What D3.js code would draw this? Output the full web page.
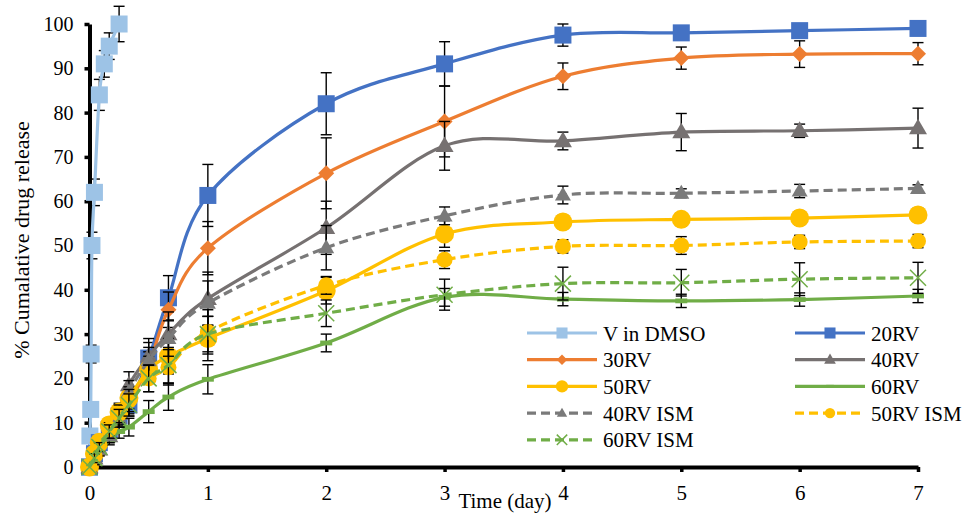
<!DOCTYPE html>
<html>
<head>
<meta charset="utf-8">
<script src="https://cdn.jsdelivr.net/npm/d3@7"></script>
<style>
  body { margin: 0; background: #fff; }
  svg { display: block; }
</style>
</head>
<body>
<svg id="chart" width="966" height="513"></svg>
<script>
// time points (days)
const timeDays = [0, 0.042, 0.083, 0.167, 0.25, 0.333, 0.5, 0.667, 1, 2, 3, 4, 5, 6, 7];
const timeDmso = [0, 0.0035, 0.0104, 0.0139, 0.0208, 0.0417, 0.0833, 0.125, 0.1667, 0.25];

// % cumulative release
const dmso     = [0, 7, 13, 25.5, 50, 62, 84, 91, 95, 100];
const rv20     = [0, 3, 5.5, 8.5, 11.5, 14, 24.6, 38.2, 61.3, 82, 91, 97.5, 98, 98.5, 99];
const rv30     = [0, 2.5, 5, 8, 11, 14.5, 23, 35.5, 49.4, 66.3, 78, 88.2, 92.3, 93.2, 93.3];
const rv40     = [0, 2, 4, 7, 12, 18.5, 25, 30, 38, 54, 72.5, 73.6, 75.6, 75.9, 76.5];
const rv50     = [0, 3, 5.6, 9.5, 12.4, 15.6, 22, 25, 29, 39.8, 52.6, 55.3, 55.9, 56.2, 56.9];
const rv60     = [0, 1.5, 3.5, 6, 8, 9, 12.5, 15.8, 19.8, 28, 38.3, 37.9, 37.5, 37.8, 38.6];
const rv40Ism  = [0, 2, 4, 7, 11, 17, 24, 29, 37, 49.5, 56.7, 61.4, 61.8, 62.3, 62.9];
const rv50Ism  = [0, 2.5, 5, 8.5, 12, 15, 20, 22.5, 30.5, 41, 46.8, 49.8, 50, 50.8, 51];
const rv60Ism  = [0, 2, 4.5, 8, 11, 14, 20, 23, 30, 34.7, 38.9, 41.4, 41.6, 42.4, 42.7];

// error bar half-widths
const dmsoErr    = [0, 1, 1.5, 2, 3, 3, 3.5, 3, 3, 4];
const rv20Err    = [0, 1, 1, 1.5, 2, 2.5, 3.5, 5, 7, 7, 5, 2.5, 1.5, 1.5, 1];
const rv30Err    = [0, 1, 1, 1.5, 2, 2.5, 3, 4, 6, 8, 8, 3, 2.5, 3, 2.5];
const rv40Err    = [0, 1, 1, 1.5, 2, 3, 4, 5, 6, 6, 5.5, 2, 4.2, 1.5, 4.5];
const rv50Err    = [0, 1, 1, 1.5, 2, 2.5, 3, 4, 5, 3, 3, 1.5, 1.5, 1.5, 1.5];
const rv60Err    = [0, 1, 1, 1, 1.5, 2, 2.5, 3, 3.3, 2, 2, 1.5, 1.5, 1.5, 1.5];
const rv40IsmErr = [0, 1, 1, 1.5, 2, 2.5, 3, 4, 5, 5, 2, 2, 1, 1.5, 0.8];
const rv50IsmErr = [0, 1, 1, 1.5, 2, 2.5, 3, 4, 5, 2, 2, 1.5, 2, 1.5, 1.5];
const rv60IsmErr = [0, 1, 1, 1.5, 2, 2.5, 3, 4, 4, 3, 3.5, 3.7, 3, 3.7, 3.5];

const xTicks = [0, 1, 2, 3, 4, 5, 6, 7];
const yTicks = [0, 10, 20, 30, 40, 50, 60, 70, 80, 90, 100];

const FONT = "'Liberation Serif', serif";

const series = [
  { name: "V in DMSO", t: timeDmso, v: dmso, e: dmsoErr, color: "#9dc3e6", marker: "square", size: 17 },
  { name: "20RV", t: timeDays, v: rv20, e: rv20Err, color: "#4472c4", marker: "square", size: 17 },
  { name: "30RV", t: timeDays, v: rv30, e: rv30Err, color: "#ed7d31", marker: "diamond", size: 16 },
  { name: "40RV", t: timeDays, v: rv40, e: rv40Err, color: "#767171", marker: "triangle", size: 18 },
  { name: "50RV", t: timeDays, v: rv50, e: rv50Err, color: "#ffc000", marker: "circle", size: 19 },
  { name: "60RV", t: timeDays, v: rv60, e: rv60Err, color: "#70ad47", marker: "dash", size: 12 },
  { name: "40RV ISM", t: timeDays, v: rv40Ism, e: rv40IsmErr, color: "#7a7a7a", marker: "triangle", size: 16, dash: true },
  { name: "50RV ISM", t: timeDays, v: rv50Ism, e: rv50IsmErr, color: "#ffc000", marker: "circle", size: 16, dash: true },
  { name: "60RV ISM", t: timeDays, v: rv60Ism, e: rv60IsmErr, color: "#70ad47", marker: "x", size: 16, dash: true }
];

const svg = d3.select("#chart");
const x = d3.scaleLinear().domain([0, 7]).range([89.5, 918]);
const y = d3.scaleLinear().domain([0, 100]).range([467, 24]);

// axes
const yAxis = svg.append("g")
  .attr("transform", `translate(${x(0)},0)`)
  .call(d3.axisLeft(y).tickValues(yTicks).tickFormat(d3.format("d"))
    .tickSize(5).tickSizeOuter(0).tickPadding(11));
const xAxis = svg.append("g")
  .attr("transform", `translate(0,${y(0)})`)
  .call(d3.axisBottom(x).tickValues(xTicks).tickFormat(d3.format("d"))
    .tickSize(5).tickSizeOuter(0).tickPadding(13));

[yAxis, xAxis].forEach(g => {
  g.attr("font-family", null);
  g.select(".domain").attr("stroke", "#000").attr("stroke-width", 4);
  g.selectAll(".tick line").attr("stroke", "#000").attr("stroke-width", 3.5);
  g.selectAll(".tick text").attr("fill", "#000")
    .style("font-family", FONT).style("font-size", "20px");
});
xAxis.selectAll(".tick text").style("font-size", "21px");

svg.append("text")
  .attr("transform", "translate(29,240) rotate(-90)")
  .attr("text-anchor", "middle")
  .style("font-family", FONT)
  .style("font-size", "22px")
  .text("% Cumalative drug release");

svg.append("text")
  .attr("x", 505).attr("y", 508)
  .attr("text-anchor", "middle")
  .style("font-family", FONT)
  .style("font-size", "21px")
  .text("Time (day)");

function drawMarker(g, type, s, color) {
  if (type === "square") {
    g.append("rect").attr("x", -s / 2).attr("y", -s / 2).attr("width", s).attr("height", s).attr("fill", color);
  } else if (type === "diamond") {
    g.append("path").attr("d", `M0,${-s / 2}L${s / 2},0L0,${s / 2}L${-s / 2},0Z`).attr("fill", color);
  } else if (type === "triangle") {
    const h = s * 0.87;
    g.append("path").attr("d", `M0,${-h * 0.6}L${s / 2},${h * 0.4}L${-s / 2},${h * 0.4}Z`).attr("fill", color);
  } else if (type === "circle") {
    g.append("circle").attr("r", s / 2).attr("fill", color);
  } else if (type === "dash") {
    g.append("rect").attr("x", -s / 2).attr("y", -s * 0.2).attr("width", s).attr("height", s * 0.4).attr("fill", color);
  } else if (type === "x") {
    const r = s / 2;
    g.append("path").attr("d", `M${-r},${-r}L${r},${r}M${-r},${r}L${r},${-r}`)
      .attr("stroke", color).attr("stroke-width", 1.5).attr("fill", "none");
  }
}

const line = d3.line().curve(d3.curveCatmullRom.alpha(0));

series.forEach(s => {
  const pts = s.t.map((t, i) => ({ t: t, v: s.v[i], e: s.e[i] }));
  const g = svg.append("g");

  // error bars
  const eb = g.selectAll(".err").data(pts.filter(d => d.e > 0)).join("g");
  eb.append("line")
    .attr("x1", d => x(d.t)).attr("x2", d => x(d.t))
    .attr("y1", d => y(d.v - d.e)).attr("y2", d => y(d.v + d.e));
  eb.append("line")
    .attr("x1", d => x(d.t) - 5.5).attr("x2", d => x(d.t) + 5.5)
    .attr("y1", d => y(d.v + d.e)).attr("y2", d => y(d.v + d.e));
  eb.append("line")
    .attr("x1", d => x(d.t) - 5.5).attr("x2", d => x(d.t) + 5.5)
    .attr("y1", d => y(d.v - d.e)).attr("y2", d => y(d.v - d.e));
  eb.selectAll("line").attr("stroke", "#000").attr("stroke-width", 1.4);

  g.append("path")
    .attr("d", line(pts.map(d => [x(d.t), y(d.v)])))
    .attr("fill", "none")
    .attr("stroke", s.color)
    .attr("stroke-width", 3.2)
    .attr("stroke-dasharray", s.dash ? "9,5" : null);

  g.selectAll(".mk").data(pts).join("g")
    .attr("transform", d => `translate(${x(d.t)},${y(d.v)})`)
    .each(function () { drawMarker(d3.select(this), s.marker, s.size, s.color); });
});

// legend
const legend = svg.append("g");
const colX = [527, 795];
series.forEach((s, i) => {
  const lx = colX[i % 2];
  const ly = 333 + Math.floor(i / 2) * 26.7;
  const item = legend.append("g").attr("transform", `translate(${lx},${ly})`);
  item.append("line")
    .attr("x1", 0).attr("x2", 70).attr("y1", 0).attr("y2", 0)
    .attr("stroke", s.color).attr("stroke-width", 3.2)
    .attr("stroke-dasharray", s.dash ? "9,5" : null);
  drawMarker(item.append("g").attr("transform", "translate(35,0)"), s.marker, s.size * 0.65, s.color);
  item.append("text")
    .attr("x", 76).attr("y", 7.5)
    .style("font-family", FONT)
    .style("font-size", "21px")
    .text(s.name);
});
</script>
</body>
</html>
